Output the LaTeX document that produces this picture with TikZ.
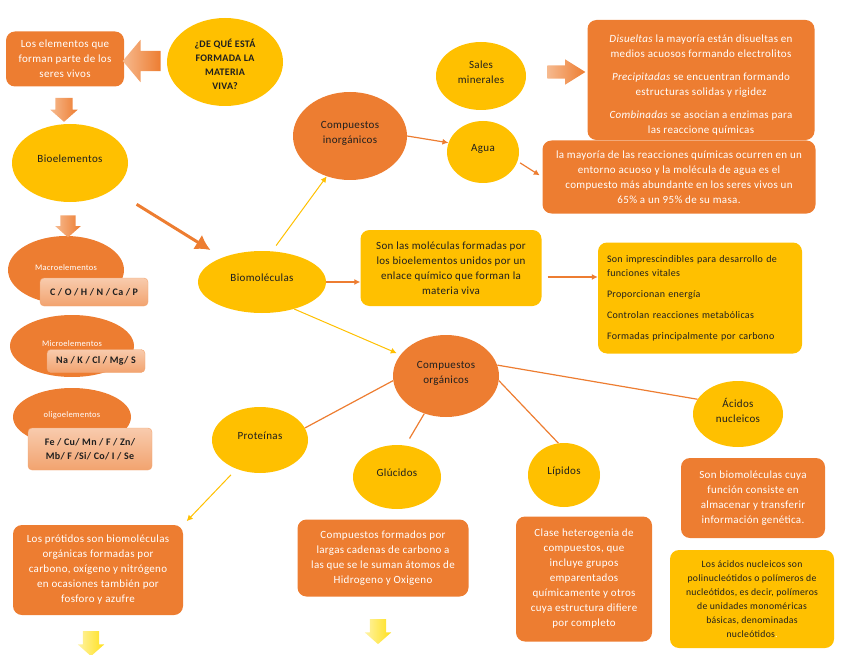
\documentclass[tikz,border=0pt]{standalone}
\usepackage{fontspec}
\setmainfont{Carlito}[LetterSpace=3]
\usetikzlibrary{shapes.geometric,shapes.arrows,arrows.meta}
\definecolor{naranja}{HTML}{ED7D31}
\definecolor{amarillo}{HTML}{FFC000}
\definecolor{salmon}{HTML}{F2A36F}
\definecolor{salmonclaro}{HTML}{F8CBAD}
\definecolor{naranjaclaro}{HTML}{F6B98E}
\definecolor{amarilloclaro}{HTML}{FFF3A6}
\definecolor{amarillovivo}{HTML}{FFE01A}
\definecolor{tinta}{HTML}{1F1F1F}
\begin{document}
\begin{tikzpicture}[x=1pt,y=-1pt]
    \tikzstyle{elipse}=[ellipse,inner sep=0pt,align=center,text=tinta,text depth=8pt,font=\fontsize{11}{15}\selectfont]
    \tikzstyle{amar}=[elipse,fill=amarillo]
    \tikzstyle{nar}=[elipse,fill=naranja]
    \tikzstyle{grupo}=[nar,text=white,text depth=5pt,font=\fontsize{8.5}{10}\selectfont]
    \tikzstyle{caja}=[rectangle,rounded corners=9pt,fill=naranja,text=white,align=center,inner sep=2pt,font=\fontsize{11}{15}\selectfont]
    \tikzstyle{cajaam}=[caja,fill=amarillo,text=tinta]
    \tikzstyle{quimicos}=[rectangle,rounded corners=4pt,draw=naranja!70,top color=salmonclaro,bottom color=salmon,text=tinta,align=center,inner sep=1pt,font=\bfseries\fontsize{10}{14}\selectfont]
    \tikzstyle{flechota}=[single arrow,inner sep=0pt,left color=naranjaclaro,right color=naranja]
    \tikzstyle{flechaam}=[single arrow,inner sep=0pt,left color=amarilloclaro,right color=amarillovivo]
    \tikzstyle{flecha}=[draw=naranja,line width=1.2pt,-{Latex[length=6pt,width=6pt]}]
    \tikzstyle{flechay}=[draw=amarillo,line width=1pt,-{Latex[length=6pt,width=6pt]}]
    \tikzstyle{rama}=[draw=naranja,line width=1.2pt]

    \useasboundingbox (0,0) rectangle (848,655);

    \node[caja,minimum width=118,minimum height=55] (elementos) at (65,59) {Los elementos que\\forman parte de los\\seres vivos};
    \node[amar,minimum width=116,minimum height=88,text depth=2pt,font=\bfseries\fontsize{10}{14}\selectfont] (pregunta) at (225,62) {\rule{0pt}{16pt}¿DE QUÉ ESTÁ\\FORMADA LA\\MATERIA\\VIVA?};
    \node[amar,minimum width=116,minimum height=78] (bioel) at (70,163) {Bioelementos};

    \node[grupo,minimum width=116,minimum height=68] (macro) at (66,270) {Macroelementos};
    \node[quimicos,minimum width=108,minimum height=28] (macrobox) at (94,292) {C / O / H / N / Ca / P};
    \node[grupo,minimum width=124,minimum height=62] (micro) at (72,346) {Microelementos};
    \node[quimicos,minimum width=98,minimum height=23] (microbox) at (96,361) {Na / K / Cl / Mg/ S};
    \node[grupo,minimum width=118,minimum height=58] (oligo) at (72,417) {oligoelementos};
    \node[quimicos,minimum width=124,minimum height=42] (oligobox) at (90,449) {Fe / Cu/ Mn / F / Zn/\\Mb/ F /Si/ Co/ I / Se};

    \node[amar,minimum width=128,minimum height=62] (biomol) at (262,282) {Biomoléculas};
    \node[nar,minimum width=114,minimum height=88] (inorg) at (350,136) {Compuestos\\inorgánicos};
    \node[amar,minimum width=90,minimum height=68] (sales) at (481,76) {Sales\\minerales};
    \node[amar,minimum width=72,minimum height=62] (agua) at (483,152) {Agua};

    \node[caja,minimum width=227,minimum height=120] (disueltas) at (701,80) {\rule{0pt}{18pt}\textit{Disueltas} la mayoría están disueltas en\\medios acuosos formando electrolitos\\[8pt]\textit{Precipitadas} se encuentran formando\\estructuras solidas y rigidez\\[8pt]\textit{Combinadas} se asocian a enzimas para\\las reaccione químicas};
    \node[caja,minimum width=273,minimum height=73] (reacc) at (679,177) {la mayoría de las reacciones químicas ocurren en un\\entorno acuoso y la molécula de agua es el\\compuesto más abundante en los seres vivos un\\65\% a un 95\% de su masa.};

    \node[cajaam,minimum width=181,minimum height=76] (molbox) at (451,268) {Son las moléculas formadas por\\los bioelementos unidos por un\\enlace químico que forman la\\materia viva};
    \node[cajaam,minimum width=204,minimum height=111,align=left,text width=186,font=\fontsize{10}{14}\selectfont] (funcbox) at (700,298) {Son imprescindibles para desarrollo de\\funciones vitales\\[7pt]Proporcionan energía\\[7pt]Controlan reacciones metabólicas\\[7pt]Formadas principalmente por carbono};

    \node[nar,minimum width=106,minimum height=82] (org) at (446,376) {Compuestos\\orgánicos};
    \node[amar,minimum width=96,minimum height=66] (prot) at (260,440) {Proteínas};
    \node[amar,minimum width=88,minimum height=64] (glu) at (397,477) {Glúcidos};
    \node[amar,minimum width=72,minimum height=64] (lip) at (564,475) {Lípidos};
    \node[amar,minimum width=90,minimum height=66] (acidos) at (738,414) {Ácidos\\nucleicos};

    \node[caja,minimum width=170,minimum height=90] (protbox) at (98,570) {Los prótidos son biomoléculas\\orgánicas formadas por\\carbono, oxígeno y nitrógeno\\en ocasiones también por\\fosforo y azufre};
    \node[caja,minimum width=171,minimum height=77] (glubox) at (383,558) {Compuestos formados por\\largas cadenas de carbono a\\las que se le suman átomos de\\Hidrogeno y Oxigeno};
    \node[caja,minimum width=136,minimum height=125] (lipbox) at (584,579) {Clase heterogenia de\\compuestos, que\\incluye grupos\\emparentados\\químicamente y otros\\cuya estructura difiere\\por completo};
    \node[caja,minimum width=144,minimum height=80] (nucbox) at (753,498) {Son biomoléculas cuya\\función consiste en\\almacenar y transferir\\información genética.};
    \node[cajaam,minimum width=164,minimum height=98,font=\fontsize{9.7}{14}\selectfont] (acbox) at (752,599) {Los ácidos nucleicos son\\polinucleótidos o polímeros de\\nucleótidos, es decir, polímeros\\de unidades monoméricas\\básicas, denominadas\\nucleótidos{\color{white}.}};

    \node[flechota,rotate=180,minimum height=38,inner ysep=10pt,single arrow head extend=11pt,single arrow tip angle=100] (fl_pregunta) at (146,61) {};
    \node[flechota,rotate=-90,minimum height=24,inner ysep=8.5pt,single arrow head extend=5pt,single arrow tip angle=97] (fl_elementos) at (64,106) {};
    \node[flechota,rotate=-90,minimum height=22,inner ysep=7.5pt,single arrow head extend=5pt,single arrow tip angle=97] (fl_bioel) at (68,223) {};
    \node[flechota,minimum height=38,inner ysep=6.5pt,single arrow head extend=6pt,single arrow tip angle=64] (fl_sales) at (561,72) {};
    \node[flechaam,rotate=-90,minimum height=25,inner ysep=8pt,single arrow head extend=5pt,single arrow tip angle=97] (fl_protbox) at (91,640) {};
    \node[flechaam,rotate=-90,minimum height=25,inner ysep=8pt,single arrow head extend=5pt,single arrow tip angle=97] (fl_glubox) at (378,628) {};

    \draw[draw=naranja,line width=3pt,-{Latex[length=15pt,width=17pt]},shorten <=28pt,shorten >=14pt] (bioel) -- (biomol);
    \draw[flechay,shorten <=7pt] (biomol.72) -- (inorg.240);
    \draw[flecha] (inorg.east) -- (agua.165);
    \draw[flecha,shorten <=3pt,shorten >=3pt] (agua.-15) -- (reacc.west);
    \draw[flecha] (biomol.east) -- (biomol.east -| molbox.west);
    \draw[flecha,shorten <=6pt] ([yshift=-9pt]molbox.east) -- ([yshift=-9pt]molbox.east -| funcbox.west);
    \draw[flechay,shorten >=4pt] (biomol.-40) -- (org.155);
    \draw[rama] (org.12) -- (acidos.160);
    \draw[rama] (org.185) -- (prot.15);
    \draw[rama,shorten >=8pt] (org.240) -- (glu.75);
    \draw[rama] (org.-5) -- (lip.100);
    \draw[flechay,shorten <=8pt,shorten >=5pt] (prot.231) -- (protbox.north east);
\end{tikzpicture}
\end{document}
